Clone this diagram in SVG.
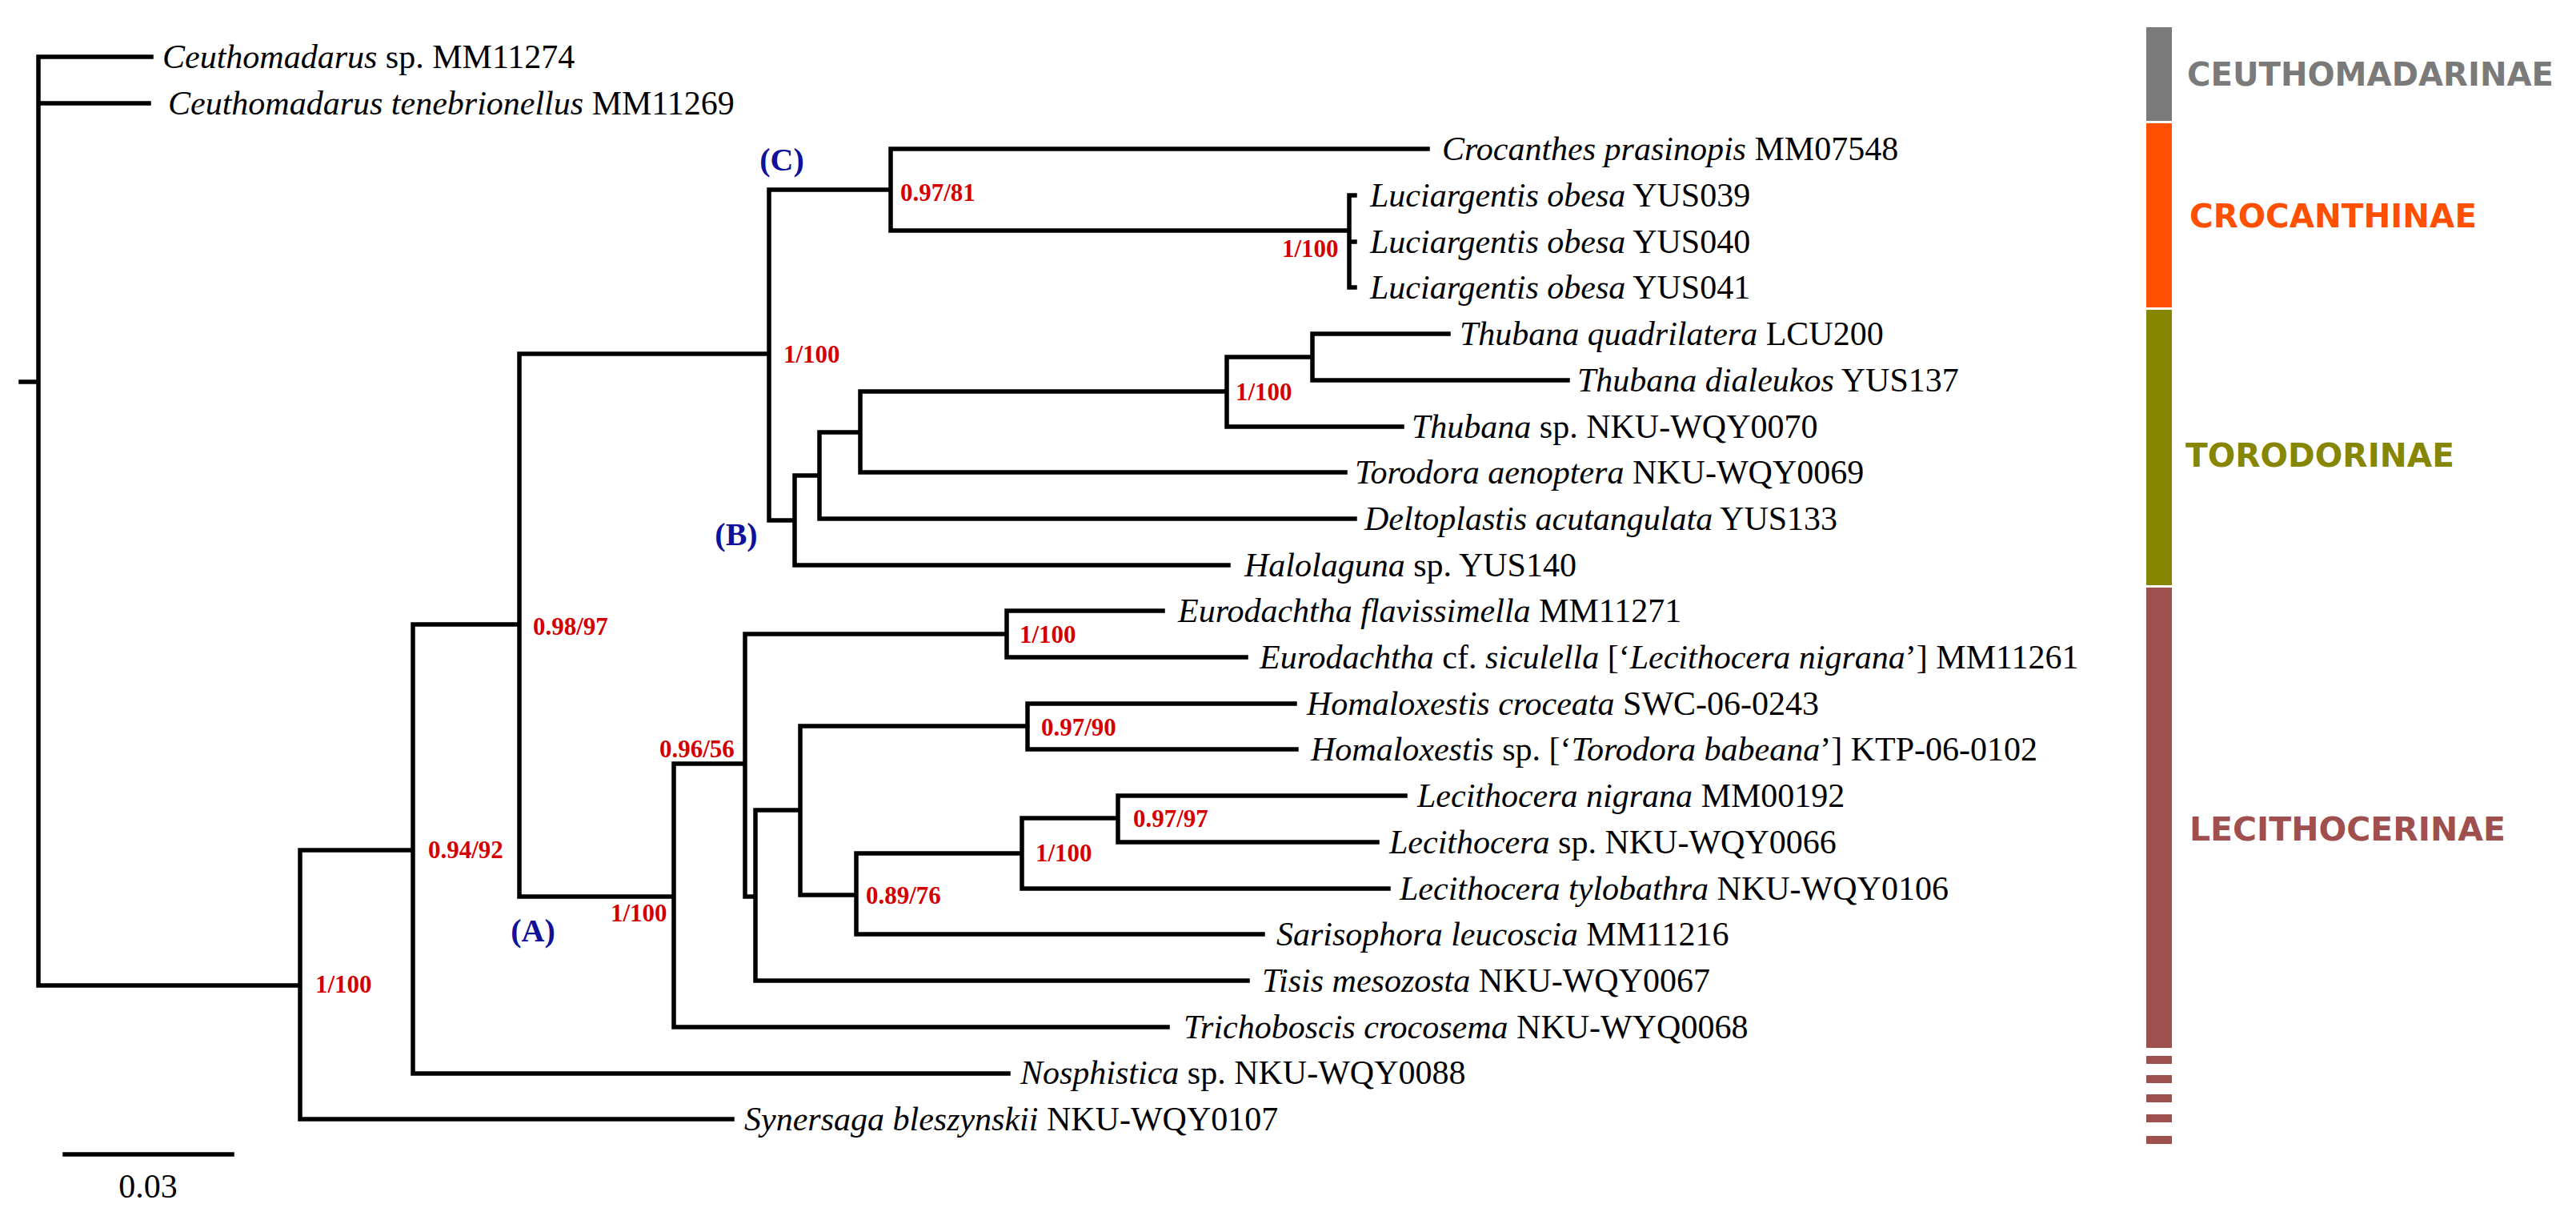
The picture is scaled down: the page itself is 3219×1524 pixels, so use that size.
<svg xmlns="http://www.w3.org/2000/svg" width="3219" height="1524" viewBox="0 0 3219 1524">
<style>
.br{fill:none;stroke:#000;stroke-width:5.5;stroke-linecap:square}
.tip{font-family:"Liberation Serif","Times New Roman",serif;font-size:42px;fill:#000}
.i{font-style:italic}
.sup{font-family:"Liberation Serif","Times New Roman",serif;font-size:31px;font-weight:bold;fill:#d40000}
.cl{font-family:"Liberation Serif","Times New Roman",serif;font-size:40px;font-weight:bold;fill:#10109a}
.fam{font-family:"DejaVu Sans",Verdana,sans-serif;font-size:40px;font-weight:bold}
</style>
<rect width="3219" height="1524" fill="#fff"/>
<g id="connectors">
<path class="br" d="M26 477H48M48 71V1231M48 71H189M48 129H186M48 1231H375
M375 1062V1398M375 1062H516M375 1398H915
M516 780V1341M516 780H649M516 1341H1260
M649 442V1120M649 442H961M649 1120H842
M961 237V650M961 237H1113M961 650H993
M1113 186V288M1113 186H1784M1113 288H1686
M1686 244V359M1686 244H1693M1686 302H1693M1686 359H1693
M993 594V706M993 594H1024M993 706H1535
M1024 540V648M1024 540H1075M1024 648H1693
M1075 489V590M1075 489H1533M1075 590H1681
M1533 446V533M1533 446H1640M1533 533H1752
M1640 417V475M1640 417H1810M1640 475H1959
M842 954V1283M842 954H931M842 1283H1459
M931 792V1120M931 792H1258M931 1120H944
M1258 763V821M1258 763H1453M1258 821H1557
M944 1012V1225M944 1012H1000M944 1225H1559
M1000 907V1118M1000 907H1284M1000 1118H1070
M1284 879V936M1284 879H1618M1284 936H1620
M1070 1066V1167M1070 1066H1277M1070 1167H1578
M1277 1022V1110M1277 1022H1397M1277 1110H1735
M1397 994V1052M1397 994H1756M1397 1052H1721"/>
<path class="br" d="M81 1442H290"/>
</g>
<g id="taxa">
<g id="t1"><text class="tip" x="203" y="85"><tspan class="i">Ceuthomadarus</tspan> sp. MM11274</text></g>
<g id="t2"><text class="tip" x="210" y="143"><tspan class="i">Ceuthomadarus tenebrionellus</tspan> MM11269</text></g>
<g id="t3"><text class="tip" x="1802" y="200"><tspan class="i">Crocanthes prasinopis</tspan> MM07548</text></g>
<g id="t4"><text class="tip" x="1712" y="258"><tspan class="i">Luciargentis obesa</tspan> YUS039</text></g>
<g id="t5"><text class="tip" x="1712" y="316"><tspan class="i">Luciargentis obesa</tspan> YUS040</text></g>
<g id="t6"><text class="tip" x="1712" y="373"><tspan class="i">Luciargentis obesa</tspan> YUS041</text></g>
<g id="t7"><text class="tip" x="1824" y="431"><tspan class="i">Thubana quadrilatera</tspan> LCU200</text></g>
<g id="t8"><text class="tip" x="1971" y="489"><tspan class="i">Thubana dialeukos</tspan> YUS137</text></g>
<g id="t9"><text class="tip" x="1764" y="547"><tspan class="i">Thubana</tspan> sp. NKU-WQY0070</text></g>
<g id="t10"><text class="tip" x="1693" y="604"><tspan class="i">Torodora aenoptera</tspan> NKU-WQY0069</text></g>
<g id="t11"><text class="tip" x="1705" y="662"><tspan class="i">Deltoplastis acutangulata</tspan> YUS133</text></g>
<g id="t12"><text class="tip" x="1555" y="720"><tspan class="i">Halolaguna</tspan> sp. YUS140</text></g>
<g id="t13"><text class="tip" x="1472" y="777"><tspan class="i">Eurodachtha flavissimella</tspan> MM11271</text></g>
<g id="t14"><text class="tip" x="1574" y="835"><tspan class="i">Eurodachtha</tspan> cf. <tspan class="i">siculella</tspan> [‘<tspan class="i">Lecithocera nigrana</tspan>’] MM11261</text></g>
<g id="t15"><text class="tip" x="1633" y="893"><tspan class="i">Homaloxestis croceata</tspan> SWC-06-0243</text></g>
<g id="t16"><text class="tip" x="1638" y="950"><tspan class="i">Homaloxestis</tspan> sp. [‘<tspan class="i">Torodora babeana</tspan>’] KTP-06-0102</text></g>
<g id="t17"><text class="tip" x="1771" y="1008"><tspan class="i">Lecithocera nigrana</tspan> MM00192</text></g>
<g id="t18"><text class="tip" x="1736" y="1066"><tspan class="i">Lecithocera</tspan> sp. NKU-WQY0066</text></g>
<g id="t19"><text class="tip" x="1749" y="1124"><tspan class="i">Lecithocera tylobathra</tspan> NKU-WQY0106</text></g>
<g id="t20"><text class="tip" x="1595" y="1181"><tspan class="i">Sarisophora leucoscia</tspan> MM11216</text></g>
<g id="t21"><text class="tip" x="1577" y="1239"><tspan class="i">Tisis mesozosta</tspan> NKU-WQY0067</text></g>
<g id="t22"><text class="tip" x="1479" y="1297"><tspan class="i">Trichoboscis crocosema</tspan> NKU-WYQ0068</text></g>
<g id="t23"><text class="tip" x="1275" y="1354"><tspan class="i">Nosphistica</tspan> sp. NKU-WQY0088</text></g>
<g id="t24"><text class="tip" x="930" y="1412"><tspan class="i">Synersaga bleszynskii</tspan> NKU-WQY0107</text></g>
</g>
<g id="support">
<text class="sup" x="1125" y="251">0.97/81</text>
<text class="sup" x="1602" y="321">1/100</text>
<text class="sup" x="979" y="453">1/100</text>
<text class="sup" x="1544" y="500">1/100</text>
<text class="sup" x="666" y="793">0.98/97</text>
<text class="sup" x="1274" y="803">1/100</text>
<text class="sup" x="1301" y="919">0.97/90</text>
<text class="sup" x="824" y="946">0.96/56</text>
<text class="sup" x="1416" y="1033">0.97/97</text>
<text class="sup" x="1294" y="1076">1/100</text>
<text class="sup" x="535" y="1072">0.94/92</text>
<text class="sup" x="1082" y="1129">0.89/76</text>
<text class="sup" x="763" y="1151">1/100</text>
<text class="sup" x="394" y="1240">1/100</text>
</g>
<g id="clades">
<text class="cl" x="977" y="213" text-anchor="middle">(C)</text>
<text class="cl" x="920" y="681" text-anchor="middle">(B)</text>
<text class="cl" x="666" y="1176" text-anchor="middle">(A)</text>
</g>
<g id="scale"><text class="tip" x="185" y="1496" text-anchor="middle">0.03</text></g>
<g id="families">
<rect x="2682" y="34" width="32" height="117" fill="#7a7a7a"/>
<rect x="2682" y="154" width="32" height="230" fill="#ff4f00"/>
<rect x="2682" y="387" width="32" height="344" fill="#868600"/>
<rect x="2682" y="734" width="32" height="575" fill="#a04f4f"/>
<g fill="#a04f4f">
<rect x="2682" y="1319" width="32" height="10"/>
<rect x="2682" y="1343" width="32" height="10"/>
<rect x="2682" y="1367" width="32" height="10"/>
<rect x="2682" y="1392" width="32" height="10"/>
<rect x="2682" y="1419" width="32" height="10"/>
</g>
<text class="fam" x="2733" y="107" fill="#7a7a7a" textLength="458" lengthAdjust="spacingAndGlyphs">CEUTHOMADARINAE</text>
<text class="fam" x="2736" y="284" fill="#ff4f00" textLength="359" lengthAdjust="spacingAndGlyphs">CROCANTHINAE</text>
<text class="fam" x="2731" y="583" fill="#868600" textLength="336" lengthAdjust="spacingAndGlyphs">TORODORINAE</text>
<text class="fam" x="2736" y="1050" fill="#a04f4f" textLength="395" lengthAdjust="spacingAndGlyphs">LECITHOCERINAE</text>
</g>
</svg>
